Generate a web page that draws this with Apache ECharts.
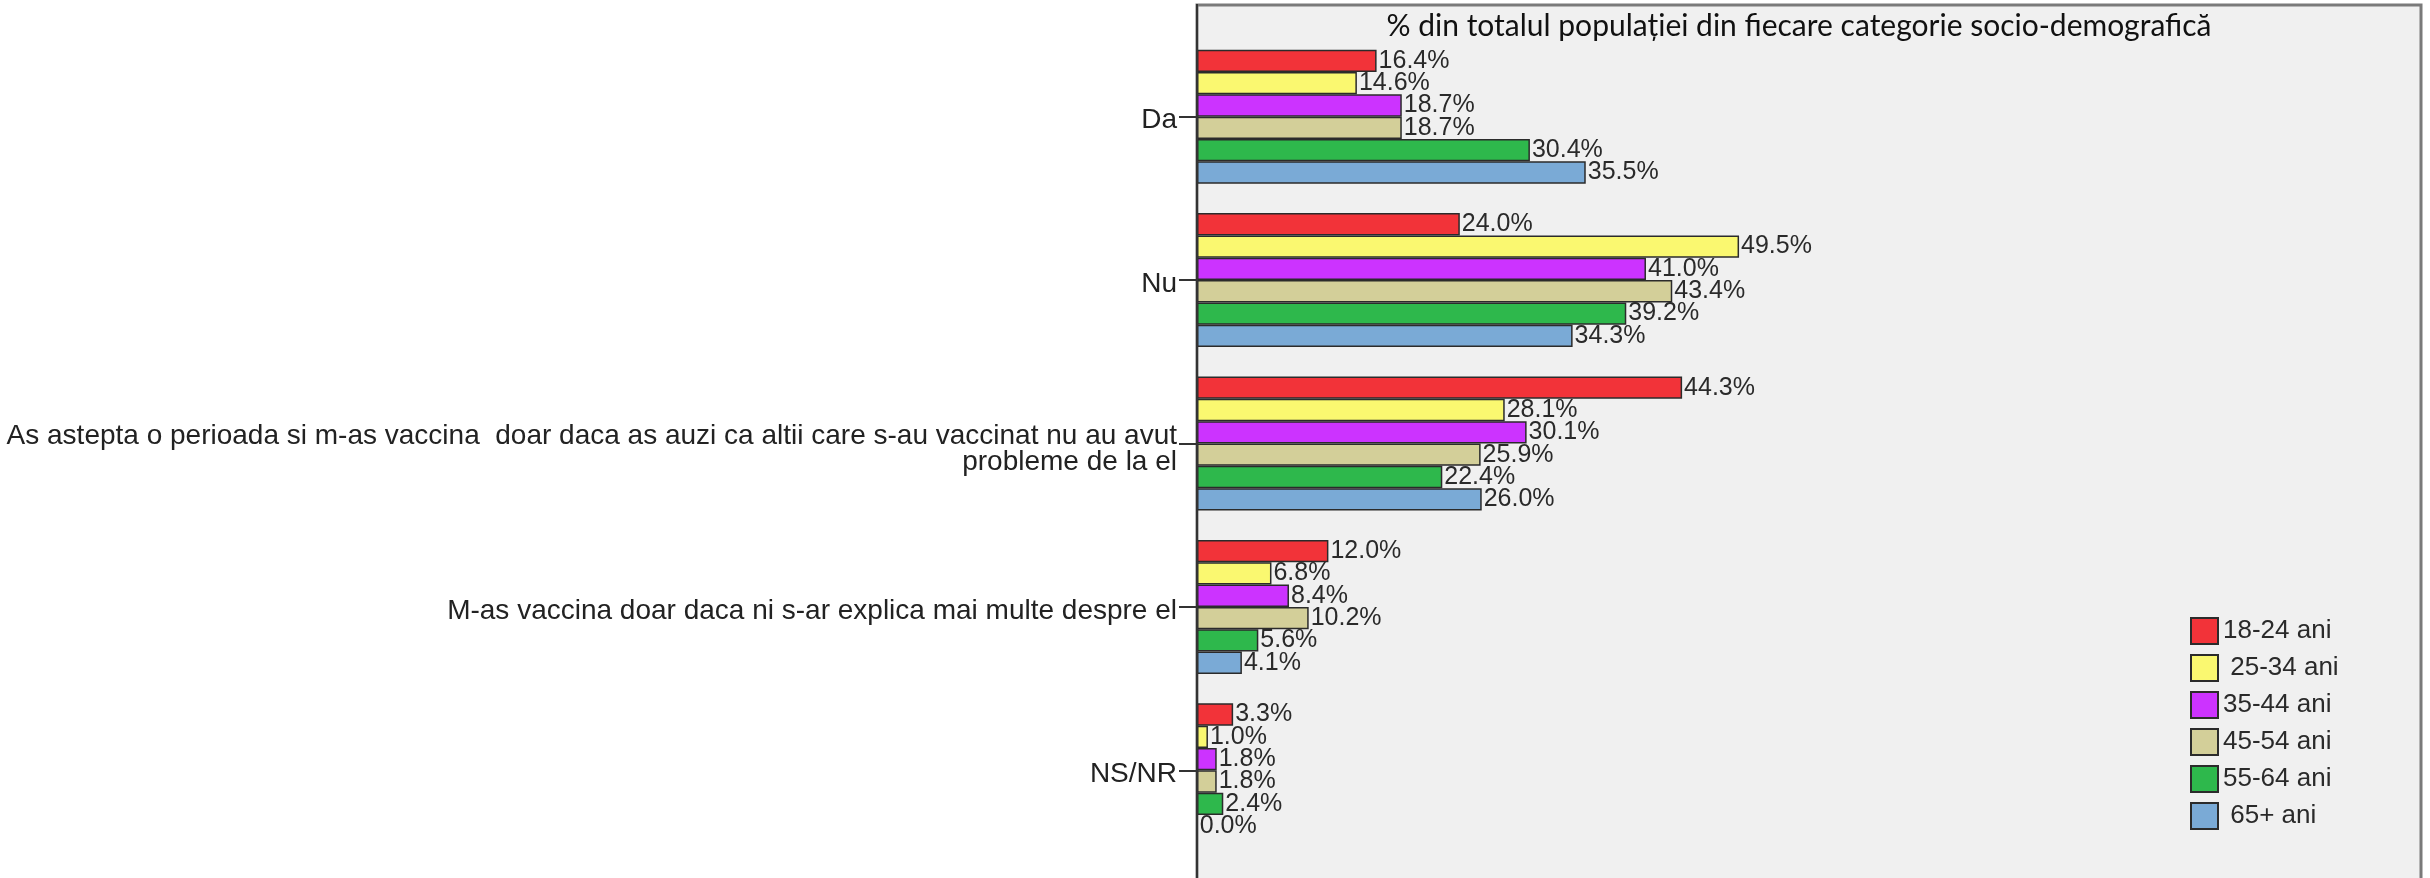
<!DOCTYPE html>
<html>
<head>
<meta charset="utf-8">
<script src="https://cdn.jsdelivr.net/npm/echarts@6/dist/echarts.min.js"></script>
<style>
  html, body { margin: 0; padding: 0; background: #ffffff; }
  #chart { width: 2430px; height: 878px; }
</style>
</head>
<body>
<div id="chart"></div>
<script>
// Answer categories (top to bottom)
const categories = [
  'Da',
  'Nu',
  'As astepta o perioada si m-as vaccina  doar daca as auzi ca altii care s-au vaccinat nu au avut\nprobleme de la el',
  'M-as vaccina doar daca ni s-ar explica mai multe despre el',
  'NS/NR'
];

// Age groups (legend order)
const ageGroups = ['18-24 ani', ' 25-34 ani', '35-44 ani', '45-54 ani', '55-64 ani', ' 65+ ani'];

// Percent of each age group, per answer category
const age18_24 = [16.4, 24.0, 44.3, 12.0, 3.3];
const age25_34 = [14.6, 49.5, 28.1, 6.8, 1.0];
const age35_44 = [18.7, 41.0, 30.1, 8.4, 1.8];
const age45_54 = [18.7, 43.4, 25.9, 10.2, 1.8];
const age55_64 = [30.4, 39.2, 22.4, 5.6, 2.4];
const age65plus = [35.5, 34.3, 26.0, 4.1, 0.0];

const seriesValues = [age18_24, age25_34, age35_44, age45_54, age55_64, age65plus];
const colors = ['#F23339', '#FAF870', '#CC33FF', '#D3CF99', '#2EB84C', '#7AAAD6'];

const titleText = '% din totalul populației din fiecare categorie socio-demografică';

const FONT = '"Liberation Sans", Arial, sans-serif';

const chart = echarts.init(document.getElementById('chart'), null, { renderer: 'canvas' });

const series = seriesValues.map((vals, i) => ({
  name: ageGroups[i],
  type: 'bar',
  data: vals,
  barGap: '0%',
  barCategoryGap: '18%',
  itemStyle: { color: colors[i], borderColor: '#2b2b2b', borderWidth: 1.5 },
  label: {
    show: true,
    position: 'right',
    distance: 2,
    fontFamily: FONT,
    fontSize: 25,
    color: '#2a2a2a',
    formatter: p => p.value.toFixed(1) + '%'
  },
  emphasis: { disabled: true },
  z: 3
}));

// Category labels: single-line labels sit a little below the tick,
// the two-line label gets a thin spacer line so its first line hangs on the tick.
function categoryLabel(value) {
  const lines = value.split('\n');
  if (lines.length === 1) return '{one|' + value + '}';
  return '{pad| }\n' + lines.map(l => '{rest|' + l + '}').join('\n');
}

chart.setOption({
  animation: false,
  backgroundColor: '#ffffff',
  title: {
    text: titleText,
    left: 1794,
    top: 6,
    textAlign: 'center',
    textStyle: { fontFamily: 'Lato, "Open Sans", sans-serif', fontWeight: 'normal', fontSize: 30, color: '#111' }
  },
  graphic: [
    {
      type: 'rect',
      z: -10,
      shape: { x: 1197, y: 5, width: 1224, height: 900 },
      style: { fill: '#F0F0F0', stroke: '#7a7a7a', lineWidth: 3 }
    },
    {
      type: 'line',
      z: 10,
      shape: { x1: 1197, y1: 4, x2: 1197, y2: 878 },
      style: { stroke: '#333333', lineWidth: 2 }
    }
  ],
  legend: {
    orient: 'vertical',
    left: 2185,
    top: 612,
    itemWidth: 27,
    itemHeight: 26,
    itemGap: 9,
    icon: 'rect',
    selectedMode: false,
    textStyle: { fontFamily: FONT, fontSize: 26, color: '#2a2a2a' },
    data: ageGroups
  },
  grid: { left: 1197, top: 35, width: 1221, height: 817, containLabel: false },
  xAxis: {
    type: 'value',
    min: 0,
    max: 111.5,
    show: false
  },
  yAxis: {
    type: 'category',
    inverse: true,
    data: categories,
    axisLine: { show: false },
    axisTick: { show: true, length: 18, alignWithLabel: true, lineStyle: { color: '#333', width: 2 } },
    axisLabel: {
      margin: 20,
      fontFamily: FONT,
      fontSize: 28,
      color: '#222',
      align: 'right',
      formatter: categoryLabel,
      rich: {
        one: { fontFamily: FONT, fontSize: 28, color: '#222', lineHeight: 26, padding: [8, 0, 0, 0] },
        pad: { fontFamily: FONT, fontSize: 8, lineHeight: 12 },
        rest: { fontFamily: FONT, fontSize: 28, color: '#222', lineHeight: 26 }
      }
    },
    splitLine: { show: false }
  },
  series: series
});
</script>
</body>
</html>
